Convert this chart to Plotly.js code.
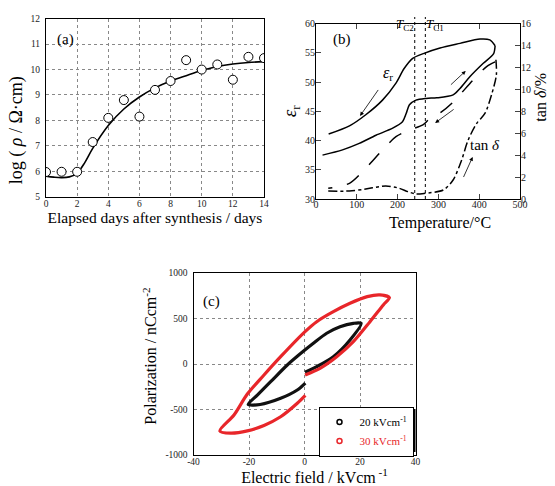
<!DOCTYPE html>
<html><head><meta charset="utf-8">
<script src="https://cdn.plot.ly/plotly-3.0.1.min.js"></script>
<style>html,body{margin:0;padding:0;background:#fff}#chart{width:555px;height:486px}</style>
</head><body><div id="chart"></div>
<script>
// Panel (a): resistivity vs elapsed days
const days = [0,1,2,3,4,5,6,7,8,9,10,11,12,13,14];
const logRho = [5.97,5.98,5.98,7.15,8.1,8.8,8.15,9.2,9.55,10.37,10.0,10.2,9.6,10.5,10.45];
const fitDays = [0,0.5,1,1.5,2,2.5,3,4,5,6,7,8,9,10,11,12,13,14];
const fitLogRho = [5.81,5.77,5.75,5.78,5.93,6.35,6.9,7.8,8.45,8.92,9.28,9.55,9.76,9.96,10.12,10.22,10.28,10.31];

// Panel (b): permittivity and loss vs temperature
const epsHeatT = [16,65,106,147,188,212,221,229,245,270,296,336,353,377,410,435,439];
const epsHeat  = [37.5,38.4,39.5,40.9,42.1,43.2,44.6,46.1,46.9,47.2,47.3,47.8,48.9,50.9,53.2,54.8,56.2];
const epsCoolT = [439,426,402,353,304,265,237,216,196,163,122,82,31];
const epsCool  = [56.2,57.2,57.35,56.6,55.8,54.9,54.05,52.3,49.8,46.9,44.4,42.5,41.1];
const tanHeatT = [30,82,122,171,204,225,245,267,312,336,357,373,394,414,431,442,441];
const tanHeat  = [0.73,0.73,0.91,1.19,0.98,0.67,0.46,0.52,0.82,1.73,3.56,5.38,6.9,7.8,9.6,11.3,12.7];
const tanCoolT = [439,419,385,336,304,279,262,229,196,163,122,82,30];
const tanCool  = [12.5,12.1,10.85,8.84,7.84,7.34,6.75,6.29,5.68,4.47,2.8,1.43,0.98];

// Panel (c): P-E hysteresis loops
const E20 = [0.2,4.4,10.4,16.4,20.4,17.6,12.8,8,3.2,0,-6.2,-12.2,-17,-20.3,-16,-8.6,-2.6,0.3];
const P20 = [-91,-29,80,264,447,447,410,338,228,150,-11,-195,-341,-445,-445,-377,-286,-210];
const E30 = [0.2,5.6,11.6,17.6,23.6,28.4,30.6,27.2,22.6,16.4,10.4,4.4,0,-8.6,-14.6,-20.6,-25.4,-30.5,-26.6,-20.6,-14.6,-8.6,-2.6,0.3];
const P30 = [-121,-47,80,245,465,649,729,759,740,667,575,465,350,80,-121,-330,-561,-735,-760,-735,-675,-580,-432,-345];
const loopNames = ['20 kVcm<sup>-1</sup>','30 kVcm<sup>-1</sup>'];
const eTickVals = [-40,-20,0,20,40];
const eTickText = ['-40','-20','0','20','40'];
const pTickVals = [-1000,-500,0,500,1000];
const pTickText = ['-1000','-500','0','500','1000'];

const FONT = 'Liberation Serif, Times New Roman, serif';
const RED = '#e8262a';
const W = 555, H = 486;
const px = v => v / W, py = v => 1 - v / H;
// padding helpers (zero-width anchor keeps the spaces from being trimmed)
const padL = (n, t) => '\u200b' + '\u00a0'.repeat(n) + t;
const padR = (n, t) => t + '\u00a0'.repeat(n) + '\u200b';

const traces = [
  {x: fitDays, y: fitLogRho, mode:'lines', line:{color:'#000', width:1.6, shape:'spline', smoothing:1}, xaxis:'x', yaxis:'y', showlegend:false, hoverinfo:'skip'},
  {x: days, y: logRho, mode:'markers', marker:{symbol:'circle', size:9, color:'#fff', line:{color:'#000', width:1}}, xaxis:'x', yaxis:'y', showlegend:false},
  {x: epsHeatT, y: epsHeat, mode:'lines', line:{color:'#000', width:1.5, shape:'spline', smoothing:0.8}, xaxis:'x2', yaxis:'y2', showlegend:false},
  {x: epsCoolT, y: epsCool, mode:'lines', line:{color:'#000', width:1.5, shape:'spline', smoothing:0.8}, xaxis:'x2', yaxis:'y2', showlegend:false},
  {x: tanHeatT, y: tanHeat, mode:'lines', line:{color:'#000', width:1.5, dash:'dashdot', shape:'spline', smoothing:0.8}, xaxis:'x2', yaxis:'y3', showlegend:false},
  {x: tanCoolT, y: tanCool, mode:'lines', line:{color:'#000', width:1.5, dash:'longdash', shape:'spline', smoothing:0.8}, xaxis:'x2', yaxis:'y3', showlegend:false},
  {x: E20, y: P20, mode:'lines', line:{color:'#111', width:3.2, shape:'spline', smoothing:0.8}, xaxis:'x3', yaxis:'y4', showlegend:false},
  {x: E30, y: P30, mode:'lines', line:{color:RED, width:3.2, shape:'spline', smoothing:0.8}, xaxis:'x3', yaxis:'y4', showlegend:false},
  {x:[null], y:[null], mode:'markers', name: loopNames[0], marker:{symbol:'circle-open', size:5, color:'#000', line:{width:1.5}}, xaxis:'x3', yaxis:'y4'},
  {x:[null], y:[null], mode:'markers', name: '<span style="color:'+RED+'">'+loopNames[1]+'</span>', marker:{symbol:'circle-open', size:5, color:RED, line:{width:1.5}}, xaxis:'x3', yaxis:'y4'}
];

const tickA = {family: FONT, size: 9.5, color:'#222'};
const tickB = {family: FONT, size: 10, color:'#222'};
const frame = {showline:true, linecolor:'#000', linewidth:1, mirror:true, zeroline:false};
const grid = {showgrid:true, gridcolor:'#888', griddash:'dot', gridwidth:1};

const layout = {
  width: W, height: H, margin:{l:0,r:0,t:0,b:0},
  paper_bgcolor:'#fff', plot_bgcolor:'#fff',
  font:{family: FONT, color:'#000'},
  showlegend:true,
  legend:{x: px(413.5), y: py(406.5), xanchor:'right', yanchor:'top', bgcolor:'#fff', bordercolor:'#000', borderwidth:1,
          font:{family:FONT, size:11, color:'#000'}, itemwidth:30, tracegroupgap:0},
  xaxis: Object.assign({domain:[px(46), px(264)], range:[0,14], dtick:2, anchor:'y', ticks:'', ticklabelstandoff:-2, tickfont:tickA,
          title:{text:'Elapsed days after synthesis / days', font:{family:FONT, size:15.5}, standoff:1}}, frame, grid),
  yaxis: Object.assign({domain:[py(196.7), py(18.7)], range:[5,12], dtick:1, anchor:'x', ticks:'outside', ticklen:3, tickcolor:'rgba(0,0,0,0)', tickfont:tickA,
          title:{text: padR(10, 'log ( <i>ρ</i> / Ω·cm)'), font:{family:FONT, size:18}, standoff:3}}, frame, grid),
  xaxis2: Object.assign({domain:[px(316), px(520)], range:[0,500], dtick:100, anchor:'y2', ticks:'inside', ticklen:5, ticklabelstandoff:-4, tickfont:tickB, showgrid:false,
          title:{text: padL(11, 'Temperature/°C'), font:{family:FONT, size:16}, standoff:7}}, frame, {mirror:'ticks'}),
  yaxis2: Object.assign({domain:[py(199), py(23.5)], range:[30,60], dtick:5, anchor:'x2', ticks:'inside', ticklen:5, ticklabelstandoff:-2, tickfont:tickB, showgrid:false,
          title:{text:'<i>ε</i><sub>r</sub>', font:{family:FONT, size:19}, standoff:3}}, frame),
  yaxis3: {domain:[py(199), py(23.5)], range:[0,16], dtick:2, anchor:'x2', overlaying:'y2', side:'right', ticks:'inside', ticklen:5, tickfont:tickB,
          showline:false, showgrid:false, zeroline:false,
          title:{text: padL(7, 'tan <i>δ</i>/%'), font:{family:FONT, size:16}, standoff:4}},
  xaxis3: Object.assign({domain:[px(193.5), px(415.5)], range:[-40,40], tickvals:eTickVals, ticktext:eTickText, anchor:'y4', ticks:'', ticklabelstandoff:-2, tickfont:tickA,
          title:{text: padL(5, 'Electric field / kVcm<sup> -1</sup>'), font:{family:FONT, size:16}, standoff:1}}, frame, grid),
  yaxis4: Object.assign({domain:[py(455), py(273)], range:[-1000,1000], tickvals:pTickVals, ticktext:pTickText, anchor:'x3', ticks:'outside', ticklen:3, tickcolor:'rgba(0,0,0,0)', tickfont:tickA,
          title:{text: padL(4, 'Polarization / nCcm<sup>-2</sup>'), font:{family:FONT, size:16}, standoff:4}}, frame, grid),
  shapes:[
    {type:'line', xref:'x2', yref:'paper', x0:242, x1:242, y0:py(199), y1:py(17), line:{color:'#000', width:1, dash:'dot'}},
    {type:'line', xref:'x2', yref:'paper', x0:268, x1:268, y0:py(199), y1:py(17), line:{color:'#000', width:1, dash:'dot'}},
    {type:'rect', xref:'paper', yref:'paper', layer:'above', x0:px(322), x1:px(415.5), y0:py(452), y1:py(409), fillcolor:'#000', line:{width:0}}
  ],
  annotations:[
    {xref:'x', yref:'y', x:1.28, y:11.2, text:'(a)', showarrow:false, font:{family:FONT, size:15}},
    {xref:'x2', yref:'y2', x:64, y:57.2, text:'(b)', showarrow:false, font:{family:FONT, size:15}},
    {xref:'x3', yref:'y4', x:-33.5, y:690, text:'(c)', showarrow:false, font:{family:FONT, size:15}},
    {xref:'x2', yref:'y2', x:176, y:51.5, text:'<i>ε</i><sub>r</sub>', showarrow:false, font:{family:FONT, size:16}},
    {xref:'x2', yref:'y2', x:414, y:39.2, text:'tan <i>δ</i>', showarrow:false, font:{family:FONT, size:15}},
    {xref:'paper', yref:'paper', x:px(416), y:py(14), xanchor:'right', text:'<i>T</i><sub>C2</sub>', showarrow:false, font:{family:FONT, size:13}},
    {xref:'paper', yref:'paper', x:px(424), y:py(14), xanchor:'left', text:'<i>T</i><sub>C1</sub>', showarrow:false, font:{family:FONT, size:13}},
    {xref:'x2', yref:'y2', axref:'x2', ayref:'y2', x:108, y:44.2, ax:155, ay:48.9, text:'', showarrow:true, arrowhead:2, arrowsize:1, arrowwidth:0.8, arrowcolor:'#000'},
    {xref:'x2', yref:'y2', axref:'x2', ayref:'y2', x:367, y:51.9, ax:327, ay:49.3, text:'', showarrow:true, arrowhead:2, arrowsize:1, arrowwidth:0.8, arrowcolor:'#000'},
    {xref:'x2', yref:'y2', axref:'x2', ayref:'y2', x:292, y:43.0, ax:341, ay:45.5, text:'', showarrow:true, arrowhead:2, arrowsize:1, arrowwidth:0.8, arrowcolor:'#000'},
    {xref:'x2', yref:'y2', axref:'x2', ayref:'y2', x:384, y:37.2, ax:360, ay:33.5, text:'', showarrow:true, arrowhead:2, arrowsize:1, arrowwidth:0.8, arrowcolor:'#000'}
  ]
};
Plotly.newPlot('chart', traces, layout, {staticPlot:true, displayModeBar:false});
</script></body></html>
